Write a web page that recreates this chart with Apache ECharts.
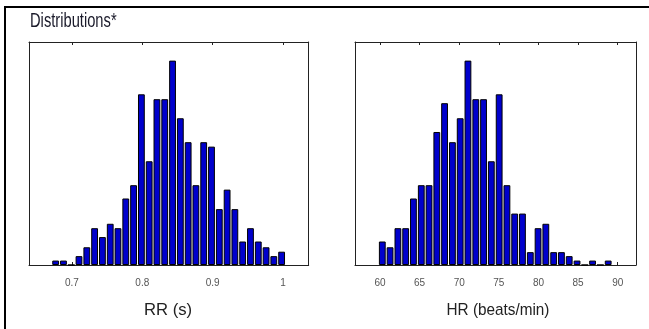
<!DOCTYPE html>
<html>
<head>
<meta charset="utf-8">
<script src="https://cdn.jsdelivr.net/npm/echarts@6/dist/echarts.min.js"></script>
<style>
html,body{margin:0;padding:0;background:#fff;}
#chart{width:649px;height:329px;}
</style>
</head>
<body>
<div id="chart"></div>
<script>
// ---- Data ----
var titleText = "Distributions*";
var rrName = "RR (s)";
var hrName = "HR (beats/min)";

// RR histogram: bin centres (s) and bar heights (counts, approx.)
var rrBins = [0.6768, 0.6879, 0.6990, 0.7100, 0.7211, 0.7322, 0.7433, 0.7544, 0.7654, 0.7765,
              0.7876, 0.7987, 0.8098, 0.8208, 0.8319, 0.8430, 0.8541, 0.8652, 0.8762, 0.8873,
              0.8984, 0.9095, 0.9206, 0.9316, 0.9427, 0.9538, 0.9649, 0.9760, 0.9870, 0.9981];
var rrCounts = [1, 1, 0, 2, 4, 8.3, 6.3, 9.3, 8.3, 15,
                18, 38.5, 23.4, 37.4, 37.4, 46.1, 33.1, 27.7, 18, 27.7,
                26.7, 12.6, 17, 12.6, 5.3, 8.3, 5.3, 4, 2, 3];
var rrTicks = [0.7, 0.8, 0.9, 1.0];
var rrTickLabels = ["0.7", "0.8", "0.9", "1"];

// HR histogram: bin centres (beats/min) and bar heights (counts, approx.)
var hrBins = [60.29, 61.27, 62.26, 63.24, 64.22, 65.21, 66.19, 67.17, 68.15, 69.14,
              70.12, 71.10, 72.09, 73.07, 74.05, 75.04, 76.02, 77.00, 77.98, 78.97,
              79.95, 80.93, 81.92, 82.90, 83.88, 84.87, 85.85, 86.83, 87.81, 88.80];
var hrCounts = [5.3, 4, 8.3, 8.3, 15, 18, 18, 30, 36.5, 27.7,
                33.1, 46.1, 37.4, 37.4, 23.4, 38.5, 18, 11.6, 11.6, 2.9,
                8.3, 9.3, 2.9, 2.9, 2, 1, 0, 1, 0, 1];
var hrTicks = [60, 65, 70, 75, 80, 85, 90];
var hrTickLabels = ["60", "65", "70", "75", "80", "85", "90"];

// ---- Chart ----
var chart = echarts.init(document.getElementById('chart'), null, {renderer: 'canvas'});

var sans = "'Liberation Sans', Arial, sans-serif";
var lineCol = '#222';
var yMax = 50.3;

function pairs(xs, ys) {
  var out = [];
  for (var i = 0; i < xs.length; i++) out.push([xs[i], ys[i]]);
  return out;
}

function xAxisDef(grid, pos, min, max, ticks, labels) {
  var showLabel = pos === 'bottom';
  return {
    type: 'value', gridIndex: grid, position: pos, min: min, max: max,
    axisLine: {show: true, onZero: false, lineStyle: {color: lineCol, width: 1}},
    axisTick: {show: true, inside: true, length: 3, customValues: ticks, lineStyle: {color: lineCol}},
    axisLabel: {
      show: showLabel, customValues: ticks, margin: 13,
      fontFamily: sans, fontSize: 10, color: '#555',
      formatter: function (v) {
        for (var i = 0; i < ticks.length; i++) if (Math.abs(ticks[i] - v) < 1e-6) return labels[i];
        return '';
      }
    },
    splitLine: {show: false}
  };
}

function yAxisDef(grid, pos) {
  return {
    type: 'value', gridIndex: grid, position: pos, min: 0, max: yMax,
    axisLine: {show: true, lineStyle: {color: lineCol, width: 1}},
    axisTick: {show: false}, axisLabel: {show: false}, splitLine: {show: false}
  };
}

var barStyle = {color: '#0000cc', borderColor: '#000', borderWidth: 1};

chart.setOption({
  animation: false,
  backgroundColor: '#fff',
  graphic: [
    {type: 'line', shape: {x1: 5, y1: 7, x2: 649, y2: 7}, style: {stroke: '#000', lineWidth: 2}},
    {type: 'line', shape: {x1: 5, y1: 6, x2: 5, y2: 329}, style: {stroke: '#000', lineWidth: 2}},
    {type: 'text', x: 30, y: 21, scaleX: 0.70,
     style: {text: titleText, font: '21px ' + sans, fill: '#1a1a2a', textAlign: 'left', textVerticalAlign: 'middle'}},
    {type: 'text', x: 168, y: 310, scaleX: 0.98,
     style: {text: rrName, font: '17px ' + sans, fill: '#222', textAlign: 'center', textVerticalAlign: 'middle'}},
    {type: 'text', x: 498, y: 310, scaleX: 0.9,
     style: {text: hrName, font: '17px ' + sans, fill: '#222', textAlign: 'center', textVerticalAlign: 'middle'}}
  ],
  grid: [
    {left: 29, top: 42, width: 279.7, height: 223},
    {left: 355, top: 42, width: 281, height: 223}
  ],
  xAxis: [
    xAxisDef(0, 'bottom', 0.6389, 1.0366, rrTicks, rrTickLabels),
    xAxisDef(0, 'top', 0.6389, 1.0366, rrTicks, rrTickLabels),
    xAxisDef(1, 'bottom', 56.845, 92.31, hrTicks, hrTickLabels),
    xAxisDef(1, 'top', 56.845, 92.31, hrTicks, hrTickLabels)
  ],
  yAxis: [
    yAxisDef(0, 'left'), yAxisDef(0, 'right'),
    yAxisDef(1, 'left'), yAxisDef(1, 'right')
  ],
  series: [
    {type: 'bar', xAxisIndex: 0, yAxisIndex: 0, data: pairs(rrBins, rrCounts),
     barWidth: 6.8, itemStyle: barStyle, emphasis: {disabled: true}},
    {type: 'bar', xAxisIndex: 2, yAxisIndex: 2, data: pairs(hrBins, hrCounts),
     barWidth: 6.8, itemStyle: barStyle, emphasis: {disabled: true}}
  ]
});
</script>
</body>
</html>
